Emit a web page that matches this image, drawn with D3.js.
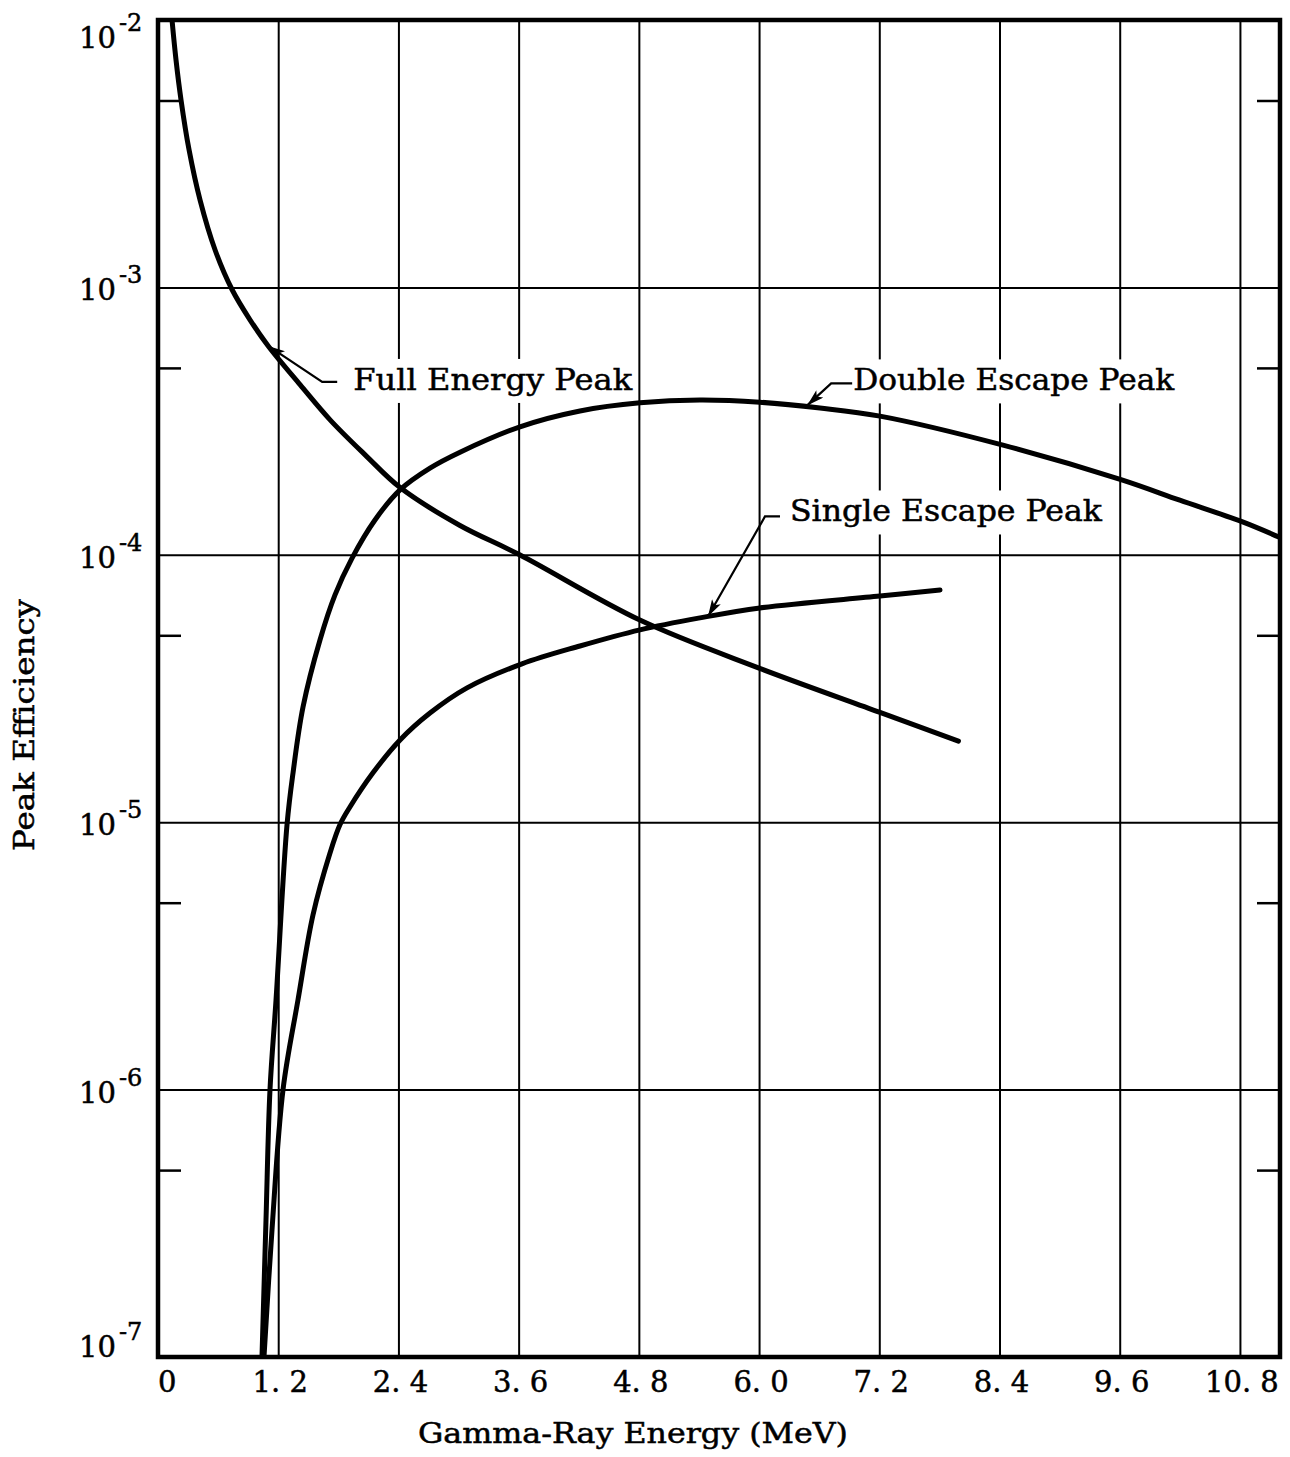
<!DOCTYPE html>
<html>
<head>
<meta charset="utf-8">
<script src="https://cdn.jsdelivr.net/npm/d3@7"></script>
<style>
  body { margin: 0; background: #fff; }
  text { font-family: "DejaVu Serif", "Liberation Serif", serif; fill: #000; stroke: #000; stroke-width: 0.5px; }
</style>
</head>
<body>
<svg id="chart" width="1290" height="1457"></svg>
<script>
// axis ticks
const energyTicks = [0, 1.2, 2.4, 3.6, 4.8, 6.0, 7.2, 8.4, 9.6, 10.8];
const decadeTicks = [1e-2, 1e-3, 1e-4, 1e-5, 1e-6, 1e-7];
const halfTicks = [5e-3, 5e-4, 5e-5, 5e-6, 5e-7];

// full energy peak
const fullEnergy = [0.14, 0.18, 0.23, 0.31, 0.42, 0.57, 0.74, 0.92, 1.10, 1.42, 1.72, 2.07, 2.42, 3.01, 3.61, 4.81, 6.0, 7.2, 7.99];
const fullEff = [1e-2, 7.08e-3, 5.02e-3, 3.27e-3, 2.12e-3, 1.38e-3, 9.8e-4, 7.55e-4, 6.04e-4, 4.32e-4, 3.19e-4, 2.36e-4, 1.78e-4, 1.29e-4, 1.0e-4, 5.7e-5, 3.77e-5, 2.58e-5, 2.01e-5];

// double escape peak
const doubleEnergy = [1.038, 1.078, 1.118, 1.178, 1.288, 1.348, 1.448, 1.617, 1.767, 1.936, 2.166, 2.416, 2.715, 3.015, 3.613, 4.212, 4.811, 5.41, 6.009, 6.608, 7.207, 8.435, 9.613, 10.2, 10.82, 11.2];
const doubleEff = [1e-7, 3.25e-7, 1e-6, 2.16e-6, 9.8e-6, 1.53e-5, 2.7e-5, 4.8e-5, 7.08e-5, 9.7e-5, 1.35e-4, 1.75e-4, 2.11e-4, 2.42e-4, 3.01e-4, 3.45e-4, 3.7e-4, 3.79e-4, 3.72e-4, 3.54e-4, 3.3e-4, 2.57e-4, 1.91e-4, 1.6e-4, 1.33e-4, 1.16e-4];

// single escape peak
const singleEnergy = [1.058, 1.138, 1.248, 1.397, 1.547, 1.717, 1.817, 1.916, 2.146, 2.416, 2.715, 3.085, 3.633, 4.212, 4.811, 5.41, 6.009, 7.207, 7.806];
const singleEff = [1e-7, 2.99e-7, 1e-6, 2.16e-6, 4.5e-6, 7.67e-6, 9.8e-6, 1.14e-5, 1.53e-5, 2.03e-5, 2.56e-5, 3.18e-5, 3.91e-5, 4.56e-5, 5.24e-5, 5.81e-5, 6.33e-5, 7.01e-5, 7.38e-5];

// curve labels: arrow tip on the curve (data units), leader drawn in pixels from it
const labels = [
  { text: "Full Energy Peak", at: [1.10, 6.04e-4], elbow: [54, 36], dash: 15, gap: 16, base: 8, len: 279 },
  { text: "Double Escape Peak", at: [6.48, 3.62e-4], elbow: [24, -22], dash: 21, gap: 1, base: 7, len: 321 },
  { text: "Single Escape Peak", at: [5.49, 5.88e-5], elbow: [57, -100], dash: 15, gap: 10, base: 5, len: 312 },
];

const svg = d3.select("#chart");
const plotL = 158, plotR = 1280, plotT = 20, plotB = 1357;

const x = d3.scaleLinear().domain([0, 11.2]).range([plotL, plotR]);
const y = d3.scaleLog().domain([1e-7, 1e-2]).range([plotB, plotT]);

// grid
const grid = svg.append("g");
grid.append("g")
  .attr("transform", `translate(0,${plotB})`)
  .call(d3.axisBottom(x).tickValues(energyTicks.slice(1)).tickSize(-(plotB - plotT)).tickFormat(""))
  .call(g => g.select(".domain").remove())
  .selectAll("line").attr("stroke", "#000").attr("stroke-width", 2);
grid.append("g")
  .attr("transform", `translate(${plotL},0)`)
  .call(d3.axisLeft(y).tickValues(decadeTicks.slice(1, -1)).tickSize(-(plotR - plotL)).tickFormat(""))
  .call(g => g.select(".domain").remove())
  .selectAll("line").attr("stroke", "#000").attr("stroke-width", 2);

// half-decade ticks on both sides
grid.append("g")
  .attr("transform", `translate(${plotL},0)`)
  .call(d3.axisRight(y).tickValues(halfTicks).tickSize(23).tickFormat(""))
  .call(g => g.select(".domain").remove())
  .selectAll("line").attr("stroke", "#000").attr("stroke-width", 2.5);
grid.append("g")
  .attr("transform", `translate(${plotR},0)`)
  .call(d3.axisLeft(y).tickValues(halfTicks).tickSize(23).tickFormat(""))
  .call(g => g.select(".domain").remove())
  .selectAll("line").attr("stroke", "#000").attr("stroke-width", 2.5);

const masks = svg.append("g");
const curves = svg.append("g");
const notes = svg.append("g");

// frame
svg.append("rect")
  .attr("x", plotL).attr("y", plotT)
  .attr("width", plotR - plotL).attr("height", plotB - plotT)
  .attr("fill", "none").attr("stroke", "#000").attr("stroke-width", 4.5);

svg.append("clipPath").attr("id", "plot")
  .append("rect").attr("x", plotL).attr("y", plotT)
  .attr("width", plotR - plotL).attr("height", plotB - plotT);

const line = d3.line().x(d => x(d[0])).y(d => y(d[1])).curve(d3.curveCatmullRom.alpha(0.5));
const series = [
  d3.zip(fullEnergy, fullEff),
  d3.zip(doubleEnergy, doubleEff),
  d3.zip(singleEnergy, singleEff),
];
curves.attr("clip-path", "url(#plot)")
  .selectAll("path")
  .data(series)
  .join("path")
  .attr("d", line)
  .attr("fill", "none")
  .attr("stroke", "#000")
  .attr("stroke-width", 5)
  .attr("stroke-linecap", "round")
  .attr("stroke-linejoin", "round");

// arrowhead
svg.append("defs").append("marker")
  .attr("id", "arrow")
  .attr("markerUnits", "userSpaceOnUse")
  .attr("viewBox", "0 0 17 10")
  .attr("refX", 17).attr("refY", 5)
  .attr("markerWidth", 17).attr("markerHeight", 10)
  .attr("orient", "auto")
  .append("path").attr("d", "M0,0L17,5L0,10L4,5Z").attr("fill", "#000");

labels.forEach(lb => {
  const tx = x(lb.at[0]), ty = y(lb.at[1]);
  const ex = tx + lb.elbow[0], ey = ty + lb.elbow[1];
  const text = notes.append("text")
    .attr("x", ex + lb.dash + lb.gap)
    .attr("y", ey + lb.base)
    .attr("font-size", 29)
    .attr("textLength", lb.len)
    .attr("lengthAdjust", "spacingAndGlyphs")
    .text(lb.text);
  const bb = text.node().getBBox();
  masks.append("rect")
    .attr("x", bb.x - 8).attr("y", bb.y - 4)
    .attr("width", bb.width + 12).attr("height", bb.height + 10)
    .attr("fill", "#fff");
  notes.append("path")
    .attr("d", d3.line()([[ex + lb.dash, ey], [ex, ey], [tx, ty]]))
    .attr("fill", "none")
    .attr("stroke", "#000")
    .attr("stroke-width", 2.2)
    .attr("marker-end", "url(#arrow)");
});

// x tick labels
svg.append("g").selectAll("text")
  .data(energyTicks)
  .join("text")
  .attr("x", d => d === 0 ? x(d) : x(d) + 2)
  .attr("y", 1392)
  .attr("font-size", 29)
  .attr("text-anchor", d => d === 0 ? "start" : "middle")
  .text(d => d === 0 ? "0" : d3.format(".1f")(d).replace(".", ". "));

// y tick labels 10^n
const ylab = svg.append("g").selectAll("text")
  .data(decadeTicks)
  .join("text")
  .attr("font-size", 29)
  .attr("y", (d, i) => y(d) + 13 + (i === 0 ? 15 : i === decadeTicks.length - 1 ? -13 : 0));
ylab.append("tspan").attr("x", 79).text("10");
ylab.append("tspan")
  .attr("font-size", 24)
  .attr("dx", 3)
  .attr("dy", -17)
  .text(d => "-" + Math.round(-Math.log10(d)));

// axis titles
svg.append("text")
  .attr("x", 633)
  .attr("y", 1443)
  .attr("font-size", 27)
  .attr("text-anchor", "middle")
  .attr("textLength", 430)
  .attr("lengthAdjust", "spacingAndGlyphs")
  .text("Gamma-Ray Energy (MeV)");

svg.append("text")
  .attr("transform", "translate(34,725) rotate(-90)")
  .attr("font-size", 27)
  .attr("text-anchor", "middle")
  .attr("textLength", 252)
  .attr("lengthAdjust", "spacingAndGlyphs")
  .text("Peak Efficiency");
</script>
</body>
</html>
